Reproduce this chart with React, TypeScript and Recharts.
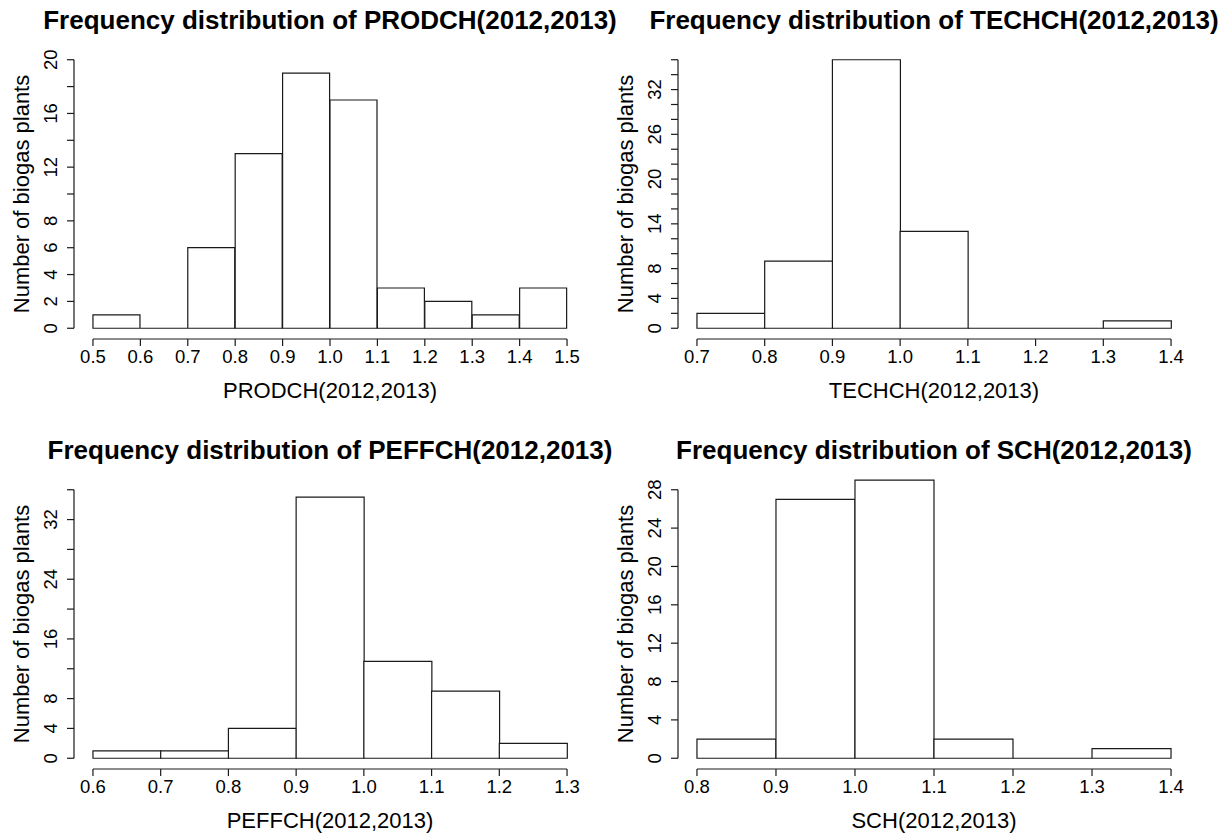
import React from 'react';
import { ComposedChart, Bar, XAxis, YAxis, ReferenceLine } from 'recharts';

const FONT = '"Liberation Sans", Arial, Helvetica, sans-serif';

// PRODCH
const prodchBreaks = [0.5, 0.6, 0.7, 0.8, 0.9, 1.0, 1.1, 1.2, 1.3, 1.4, 1.5];
const prodchCounts = [1, 0, 6, 13, 19, 17, 3, 2, 1, 3];
const prodchYTicks = [0, 2, 4, 6, 8, 10, 12, 14, 16, 18, 20];
const prodchYLabels = [0, 2, 4, 6, 8, 12, 16, 20];

// TECHCH
const techchBreaks = [0.7, 0.8, 0.9, 1.0, 1.1, 1.2, 1.3, 1.4];
const techchCounts = [2, 9, 36, 13, 0, 0, 1];
const techchYTicks = [0, 2, 4, 6, 8, 10, 12, 14, 16, 18, 20, 22, 24, 26, 28, 30, 32, 34, 36];
const techchYLabels = [0, 4, 8, 14, 20, 26, 32];

// PEFFCH
const peffchBreaks = [0.6, 0.7, 0.8, 0.9, 1.0, 1.1, 1.2, 1.3];
const peffchCounts = [1, 1, 4, 35, 13, 9, 2];
const peffchYTicks = [0, 4, 8, 12, 16, 20, 24, 28, 32, 36];
const peffchYLabels = [0, 4, 8, 16, 24, 32];

// SCH
const schBreaks = [0.8, 0.9, 1.0, 1.1, 1.2, 1.3, 1.4];
const schCounts = [2, 27, 29, 2, 0, 1];
const schYTicks = [0, 4, 8, 12, 16, 20, 24, 28];
const schYLabels = [0, 4, 8, 12, 16, 20, 24, 28];

const Y_TITLE = 'Number of biogas plants';

const PANEL_W = 615;
const PANEL_H = 401;
const AXIS_W = 74;
const PLOT_W = 512;
const MARGIN_TOP = 49;
const XAXIS_H = 62;
const STROKE = '#1a1a1a';

const HistShape = (props: any) => {
  const { x, y, width, height } = props;
  if (x == null || y == null || width == null) return null;
  const h = height || 0;
  return (
    <path
      d={`M${x},${y}h${width}v${h}h${-width}Z`}
      fill="#fff"
      stroke={STROKE}
      strokeWidth={1.2}
    />
  );
};

type PanelProps = {
  left: number;
  top: number;
  title: string;
  xLabel: string;
  breaks: number[];
  counts: number[];
  yTicks: number[];
  yLabels: number[];
};

function Panel({ left, top, title, xLabel, breaks, counts, yTicks, yLabels }: PanelProps) {
  const first = breaks[0];
  const last = breaks[breaks.length - 1];
  const span = last - first;
  const xDomain = [first - 0.04 * span, last + 0.04 * span];
  const yMax = yTicks[yTicks.length - 1];
  const yDomain = [-0.04 * yMax, 1.04 * yMax];
  const data = counts.map((c, i) => ({ x: (breaks[i] + breaks[i + 1]) / 2, count: c }));

  const renderYTick = (p: any) => {
    const { x, y, payload } = p;
    if (!yLabels.includes(payload.value)) return <g />;
    return (
      <text
        x={0}
        y={0}
        transform={`translate(${x - 8},${y}) rotate(-90)`}
        textAnchor="middle"
        fontSize={18.5}
        fill="#000"
        fontFamily={FONT}
      >
        {payload.value}
      </text>
    );
  };

  const cx = AXIS_W + PLOT_W / 2;
  const cy = MARGIN_TOP + (PANEL_H - MARGIN_TOP - XAXIS_H) / 2;

  return (
    <div style={{ position: 'absolute', left, top, width: PANEL_W, height: PANEL_H }}>
      <ComposedChart
        width={PANEL_W}
        height={PANEL_H}
        data={data}
        margin={{ top: MARGIN_TOP, right: PANEL_W - AXIS_W - PLOT_W, bottom: 0, left: 0 }}
        barCategoryGap={0}
        barGap={0}
      >
        <XAxis
          type="number"
          dataKey="x"
          domain={xDomain}
          ticks={breaks}
          interval={0}
          allowDataOverflow
          axisLine={false}
          tickLine={{ stroke: STROKE, strokeWidth: 1.2 }}
          tickSize={7}
          tickMargin={4}
          height={XAXIS_H}
          tickFormatter={(v: number) => v.toFixed(1)}
          tick={{ fill: '#000', fontSize: 18.5, fontFamily: FONT }}
        />
        <YAxis
          type="number"
          domain={yDomain}
          ticks={yTicks}
          interval={0}
          allowDataOverflow
          axisLine={false}
          tickLine={{ stroke: STROKE, strokeWidth: 1.2 }}
          tickSize={7}
          width={AXIS_W}
          tick={renderYTick}
        />
        <Bar dataKey="count" isAnimationActive={false} shape={HistShape} />
        <ReferenceLine
          segment={[{ x: first, y: yDomain[0] }, { x: last, y: yDomain[0] }]}
          stroke={STROKE}
          strokeWidth={1.2}
          ifOverflow="visible"
        />
        <ReferenceLine
          segment={[{ x: xDomain[0], y: 0 }, { x: xDomain[0], y: yMax }]}
          stroke={STROKE}
          strokeWidth={1.2}
          ifOverflow="visible"
        />
      </ComposedChart>
      <svg
        width={PANEL_W}
        height={PANEL_H}
        style={{ position: 'absolute', left: 0, top: 0, pointerEvents: 'none', overflow: 'visible' }}
      >
        <text x={cx} y={29} textAnchor="middle" fontSize={26} fontWeight="bold" fontFamily={FONT} fill="#000">
          {title}
        </text>
        <text x={cx} y={398} textAnchor="middle" fontSize={22} fontFamily={FONT} fill="#000">
          {xLabel}
        </text>
        <text
          x={0}
          y={0}
          transform={`translate(29,${cy}) rotate(-90)`}
          textAnchor="middle"
          fontSize={22}
          fontFamily={FONT}
          fill="#000"
        >
          {Y_TITLE}
        </text>
      </svg>
    </div>
  );
}

export default function App() {
  return (
    <div style={{ position: 'relative', width: 1231, height: 834, background: '#fff', overflow: 'hidden' }}>
      <style>{`body{margin:0;overflow:hidden;background:#fff}`}</style>
      <Panel
        left={0}
        top={0}
        title="Frequency distribution of PRODCH(2012,2013)"
        xLabel="PRODCH(2012,2013)"
        breaks={prodchBreaks}
        counts={prodchCounts}
        yTicks={prodchYTicks}
        yLabels={prodchYLabels}
      />
      <Panel
        left={604}
        top={0}
        title="Frequency distribution of TECHCH(2012,2013)"
        xLabel="TECHCH(2012,2013)"
        breaks={techchBreaks}
        counts={techchCounts}
        yTicks={techchYTicks}
        yLabels={techchYLabels}
      />
      <Panel
        left={0}
        top={430}
        title="Frequency distribution of PEFFCH(2012,2013)"
        xLabel="PEFFCH(2012,2013)"
        breaks={peffchBreaks}
        counts={peffchCounts}
        yTicks={peffchYTicks}
        yLabels={peffchYLabels}
      />
      <Panel
        left={604}
        top={430}
        title="Frequency distribution of SCH(2012,2013)"
        xLabel="SCH(2012,2013)"
        breaks={schBreaks}
        counts={schCounts}
        yTicks={schYTicks}
        yLabels={schYLabels}
      />
    </div>
  );
}
